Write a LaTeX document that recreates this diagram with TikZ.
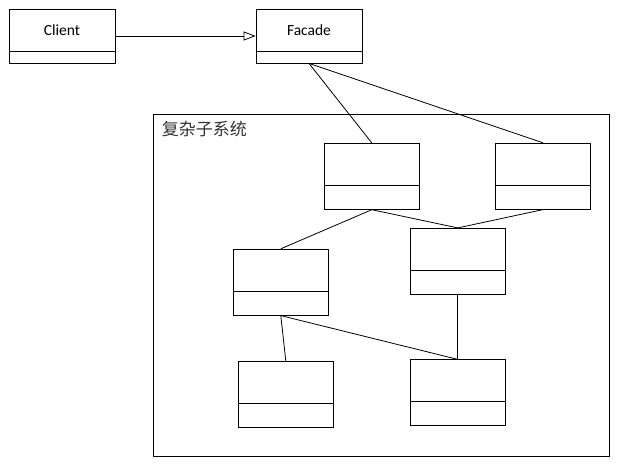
\documentclass[tikz,border=0pt]{standalone}
\usepackage{fontspec}
\setmainfont{Carlito}
\newfontfamily\cjk{Noto Sans CJK SC}
\usetikzlibrary{arrows.meta}

\tikzset{
  umlbox/.style={draw,line width=0.8pt,minimum width=95pt,minimum height=66pt,inner sep=0pt,
    path picture={\draw[line width=0.8pt] ([yshift=#1]path picture bounding box.south west) -- ([yshift=#1]path picture bounding box.south east);}},
  umlbox/.default=24pt,
  classname/.style={font=\fontsize{15.5}{18}\selectfont,yshift=6pt}
}

\begin{document}
\begin{tikzpicture}[x=1pt,y=-1pt]
\useasboundingbox (0,0) rectangle (618,466);

% Client and facade
\node[umlbox=12pt,minimum width=106pt,minimum height=54pt,label={[classname]center:Client}] (client) at (62,36) {};
\node[umlbox=12pt,minimum width=106pt,minimum height=54pt,label={[classname]center:Facade}] (facade) at (309,36) {};
\draw[line width=0.8pt,-{Triangle[open,length=12pt,width=9pt,fill=white]}] (client.east) -- (facade.west);

% Subsystem frame
\node[draw,line width=0.8pt,minimum width=456pt,minimum height=342pt,inner sep=0pt] (subsys) at (381,285) {};
\node[anchor=north west,inner sep=0pt,text=black!80,font=\cjk\fontsize{17}{19}\selectfont] (subsyslabel) at ([shift={(9pt,-7pt)}]subsys.north west) {复杂子系统};

% Subsystem classes
\node[umlbox] (clsa) at (371.8,176.3) {};
\node[umlbox] (clsb) at (543,176.2) {};
\node[umlbox] (clsc) at (280.8,282.2) {};
\node[umlbox] (clsd) at (457.8,261.3) {};
\node[umlbox] (clse) at (285.8,394.3) {};
\node[umlbox] (clsf) at (457.8,392.8) {};

% Links
\draw[line width=0.8pt] (facade.south) -- (clsa.north);
\draw[line width=0.8pt] (facade.south) -- (clsb.north);
\draw[line width=0.8pt] (clsa.south) -- (clsc.north);
\draw[line width=0.8pt] (clsa.south) -- (clsd.north);
\draw[line width=0.8pt] (clsb.south) -- (clsd.north);
\draw[line width=0.8pt] (clsc.south) -- (clse.north);
\draw[line width=0.8pt] (clsc.south) -- (clsf.north);
\draw[line width=0.8pt] (clsd.south) -- (clsf.north);
\end{tikzpicture}
\end{document}
